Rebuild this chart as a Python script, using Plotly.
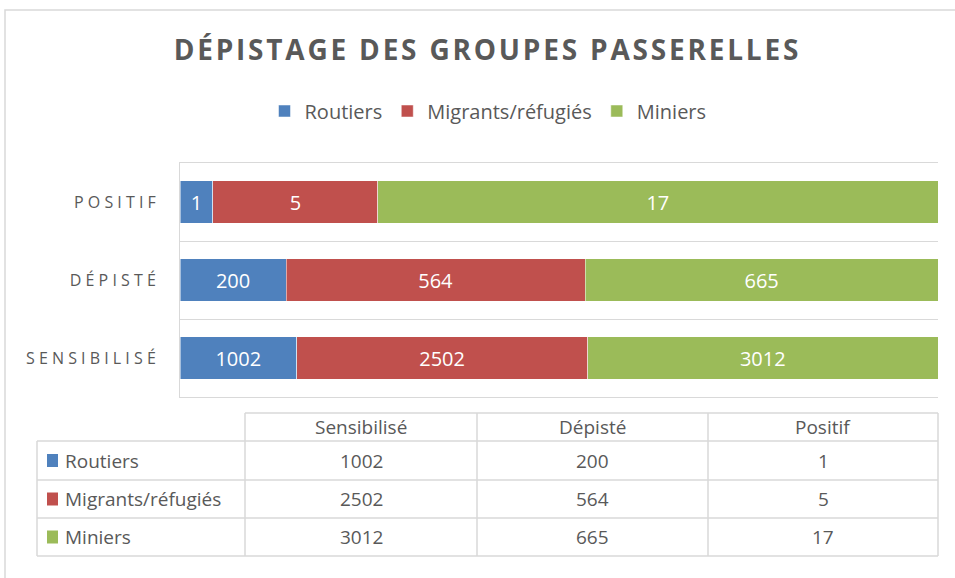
import plotly.graph_objects as go

categories = ["Sensibilisé", "Dépisté", "Positif"]
series = ["Routiers", "Migrants/réfugiés", "Miniers"]
routiers = [1002, 200, 1]
migrants = [2502, 564, 5]
miniers = [3012, 665, 17]
colors = ["#4F81BD", "#C0504D", "#9BBB59"]

W, H = 955, 578
grey = "#595959"
line_grey = "#D9D9D9"
font = "Open Sans"

def px(x):
    return x / W

def py(y):
    return 1 - y / H

def spaced(s):
    return " ".join(s.upper())

ypos = list(range(len(categories)))

fig = go.Figure()
for name, vals, col in zip(series, [routiers, migrants, miniers], colors):
    fig.add_trace(go.Bar(
        y=ypos, x=vals, name=name, orientation="h",
        marker=dict(color=col, line=dict(width=0.5, color="white")),
        text=[str(v) for v in vals], textposition="inside",
        insidetextanchor="middle",
        textfont=dict(color="white", size=20, family=font),
        width=0.55, hoverinfo="x+name",
    ))

# ---- data table (drawn with shapes + annotations) ----
col_edges = [37, 245, 477, 708, 938]
row_edges = [413, 441, 480, 518, 556]
shapes = []
annotations = []

# horizontal lines
for i, y in enumerate(row_edges):
    x0 = col_edges[1] if i == 0 else col_edges[0]
    shapes.append(dict(type="line", xref="paper", yref="paper",
                       x0=px(x0), x1=px(col_edges[-1]), y0=py(y), y1=py(y),
                       line=dict(color=line_grey, width=1.5)))
# vertical lines
for j, x in enumerate(col_edges):
    y0 = row_edges[1] if j == 0 else row_edges[0]
    shapes.append(dict(type="line", xref="paper", yref="paper",
                       x0=px(x), x1=px(x), y0=py(y0), y1=py(row_edges[-1]),
                       line=dict(color=line_grey, width=1.5)))

# header
for j, cat in enumerate(categories):
    annotations.append(dict(
        text=cat, xref="paper", yref="paper",
        x=px((col_edges[j + 1] + col_edges[j + 2]) / 2),
        y=py((row_edges[0] + row_edges[1]) / 2),
        xanchor="center", yanchor="middle", showarrow=False,
        font=dict(size=19, color=grey, family=font)))

# body rows
for i, (name, vals, col) in enumerate(zip(series, [routiers, migrants, miniers], colors)):
    yc = (row_edges[i + 1] + row_edges[i + 2]) / 2
    shapes.append(dict(type="rect", xref="paper", yref="paper",
                       x0=px(47), x1=px(58), y0=py(yc - 6.5), y1=py(yc + 6.5),
                       fillcolor=col, line=dict(width=0)))
    annotations.append(dict(
        text=name, xref="paper", yref="paper", x=px(63), y=py(yc),
        xanchor="left", yanchor="middle", showarrow=False,
        font=dict(size=19, color=grey, family=font)))
    for j, v in enumerate(vals):
        annotations.append(dict(
            text=str(v), xref="paper", yref="paper",
            x=px((col_edges[j + 1] + col_edges[j + 2]) / 2), y=py(yc),
            xanchor="center", yanchor="middle", showarrow=False,
            font=dict(size=19, color=grey, family=font)))

# outer chart border
shapes.append(dict(type="rect", xref="paper", yref="paper",
                   x0=px(5), x1=1.05, y0=-0.05, y1=py(10),
                   line=dict(color=line_grey, width=1.5), layer="below"))

title_text = "\u200a".join("DÉPISTAGE DES GROUPES PASSERELLES")

fig.update_layout(
    width=W, height=H,
    margin=dict(l=0, r=0, t=0, b=0),
    paper_bgcolor="white", plot_bgcolor="white",
    barmode="stack", barnorm="percent",
    title=dict(text=f"<b>{title_text}</b>",
               x=px(486), xanchor="center", y=py(50), yanchor="middle",
               font=dict(size=28, color=grey, family=font)),
    legend=dict(orientation="h", x=px(488), xanchor="center",
                y=py(111), yanchor="middle",
                font=dict(size=20, color=grey, family=font),
                traceorder="normal", itemwidth=30),
    showlegend=True,
    xaxis=dict(domain=[px(180), px(938)], range=[0, 100],
               showticklabels=False, showgrid=False, zeroline=False,
               showline=True, mirror=True, linecolor=line_grey, linewidth=1,
               ticks="", fixedrange=True),
    yaxis=dict(domain=[py(397), py(163)], range=[-0.5, 2.5],
               tickvals=ypos, ticktext=[spaced(c) for c in categories],
               tickfont=dict(size=16, color=grey, family=font),
               showgrid=False, zeroline=False,
               showline=True, linecolor=line_grey, linewidth=1,
               ticks="outside", ticklen=20, tickcolor="rgba(0,0,0,0)",
               minor=dict(tickvals=[-0.5, 0.5, 1.5, 2.5], showgrid=True,
                          gridcolor=line_grey, gridwidth=1, ticks=""),
               automargin=False, fixedrange=True),
    shapes=shapes,
    annotations=annotations,
)

fig.write_html("out.html", config={"displayModeBar": False},
               post_script="document.body.style.margin='0px';")
